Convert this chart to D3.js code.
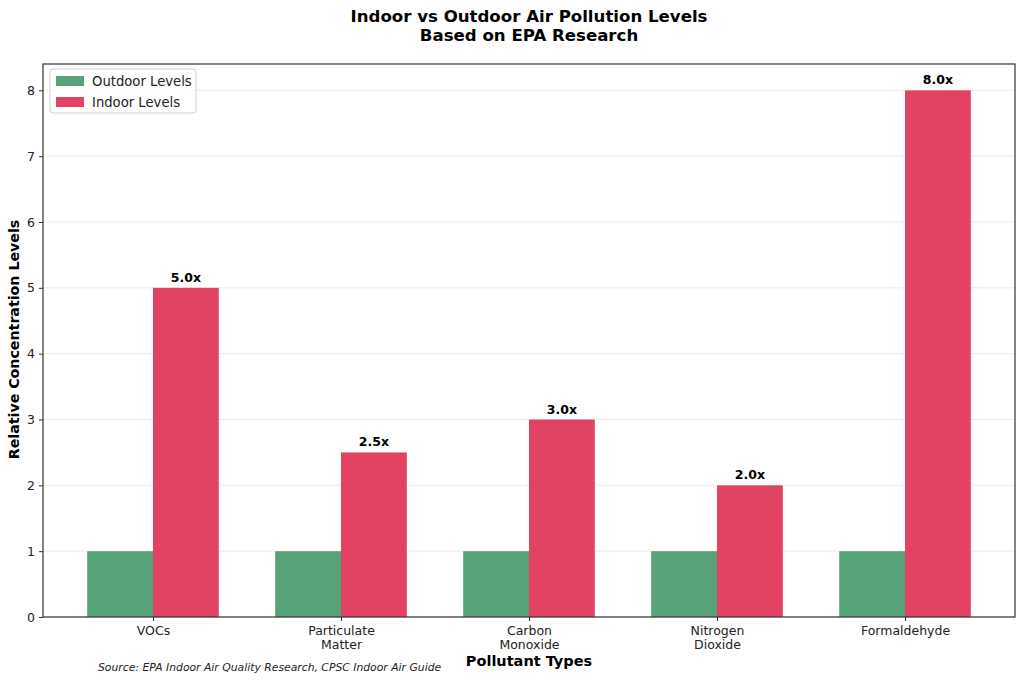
<!DOCTYPE html>
<html>
<head>
<meta charset="utf-8">
<script src="https://d3js.org/d3.v7.min.js"></script>
<style>
  body { margin: 0; background: #fff; }
  svg { font-family: "DejaVu Sans", sans-serif; }
</style>
</head>
<body>
<div id="chart"></div>
<script>
// Data
const categories    = ['VOCs', 'Particulate\nMatter', 'Carbon\nMonoxide', 'Nitrogen\nDioxide', 'Formaldehyde'];
const outdoorLevels = [1, 1, 1, 1, 1];
const indoorLevels  = [5.0, 2.5, 3.0, 2.0, 8.0];
const yTicks        = [0, 1, 2, 3, 4, 5, 6, 7, 8];
const seriesNames   = ['Outdoor Levels', 'Indoor Levels'];

const W = 1024, H = 682;
const margin = { top: 64, right: 9, bottom: 65, left: 43 };
const iw = W - margin.left - margin.right;
const ih = H - margin.top - margin.bottom;

const colors = { outdoor: '#58a279', indoor: '#e34363' };
const barW = 0.35;

const svg = d3.select('#chart').append('svg')
  .attr('width', W).attr('height', H);

const g = svg.append('g').attr('transform', `translate(${margin.left},${margin.top})`);

const x = d3.scaleLinear().domain([-0.585, categories.length - 1 + 0.585]).range([0, iw]);
const y = d3.scaleLinear().domain([0, 8.4]).range([ih, 0]);

/* Grid */
g.append('g').selectAll('line').data(yTicks).join('line')
  .attr('x1', 0).attr('x2', iw)
  .attr('y1', d => y(d)).attr('y2', d => y(d))
  .attr('stroke', '#e6e6e6').attr('stroke-width', 0.8);

/* Bars */
g.append('g').selectAll('rect').data(outdoorLevels).join('rect')
  .attr('x', (d, i) => x(i - barW))
  .attr('width', x(barW) - x(0))
  .attr('y', d => y(d))
  .attr('height', d => y(0) - y(d))
  .attr('fill', colors.outdoor);

g.append('g').selectAll('rect').data(indoorLevels).join('rect')
  .attr('x', (d, i) => x(i))
  .attr('width', x(barW) - x(0))
  .attr('y', d => y(d))
  .attr('height', d => y(0) - y(d))
  .attr('fill', colors.indoor);

/* Value labels on indoor bars */
g.append('g').selectAll('text').data(indoorLevels).join('text')
  .attr('x', (d, i) => x(i + barW / 2))
  .attr('y', d => y(d) - 6)
  .attr('text-anchor', 'middle')
  .attr('font-size', 12.5).attr('font-weight', 'bold')
  .attr('fill', '#000')
  .text(d => d.toFixed(1) + 'x');

/* Axes */
const yAxis = g.append('g')
  .call(d3.axisLeft(y).tickValues(yTicks).tickSize(4).tickPadding(4));
yAxis.select('.domain').remove();
yAxis.selectAll('text').attr('font-size', 12.5).attr('fill', '#222').attr('font-family', 'DejaVu Sans');
yAxis.selectAll('line').attr('stroke', '#333');

const xAxis = g.append('g').attr('transform', `translate(0,${ih})`)
  .call(d3.axisBottom(x).tickValues(d3.range(categories.length)).tickSize(4).tickFormat(''));
xAxis.select('.domain').remove();
xAxis.selectAll('line').attr('stroke', '#333');
xAxis.selectAll('.tick').each(function(d) {
  const t = d3.select(this).append('text')
    .attr('text-anchor', 'middle')
    .attr('font-size', 12.5).attr('fill', '#222')
    .attr('font-family', 'DejaVu Sans');
  categories[d].split('\n').forEach((line, k) => {
    t.append('tspan').attr('x', 0).attr('y', 18 + k * 14).text(line);
  });
});

/* Frame */
g.append('rect')
  .attr('width', iw).attr('height', ih)
  .attr('fill', 'none').attr('stroke', '#333').attr('stroke-width', 1.2);

/* Axis titles */
svg.append('text')
  .attr('transform', `translate(19,${margin.top + ih / 2 - 1}) rotate(-90)`)
  .attr('text-anchor', 'middle')
  .attr('font-size', 14.2).attr('font-weight', 'bold')
  .text('Relative Concentration Levels');

svg.append('text')
  .attr('x', margin.left + iw / 2).attr('y', 666)
  .attr('text-anchor', 'middle')
  .attr('font-size', 14.5).attr('font-weight', 'bold')
  .text('Pollutant Types');

/* Title */
const title = svg.append('text')
  .attr('x', margin.left + iw / 2)
  .attr('text-anchor', 'middle')
  .attr('font-size', 16.6).attr('font-weight', 'bold');
title.append('tspan').attr('x', margin.left + iw / 2).attr('y', 22).text('Indoor vs Outdoor Air Pollution Levels');
title.append('tspan').attr('x', margin.left + iw / 2).attr('y', 41).text('Based on EPA Research');

/* Source note */
svg.append('text')
  .attr('x', 98).attr('y', 671)
  .attr('font-size', 10.8).attr('font-style', 'italic')
  .attr('fill', '#222')
  .text('Source: EPA Indoor Air Quality Research, CPSC Indoor Air Guide');

/* Legend */
const legend = g.append('g').attr('transform', 'translate(7,5)');
legend.append('rect')
  .attr('width', 146).attr('height', 44).attr('rx', 3)
  .attr('fill', '#fff').attr('fill-opacity', 0.8)
  .attr('stroke', '#d0d0d0');
[colors.outdoor, colors.indoor].forEach((c, i) => {
  legend.append('rect')
    .attr('x', 6).attr('y', 7 + i * 21)
    .attr('width', 28).attr('height', 10)
    .attr('fill', c);
  legend.append('text')
    .attr('x', 42).attr('y', 16.5 + i * 21)
    .attr('font-size', 13.2).attr('fill', '#222')
    .text(seriesNames[i]);
});
</script>
</body>
</html>
